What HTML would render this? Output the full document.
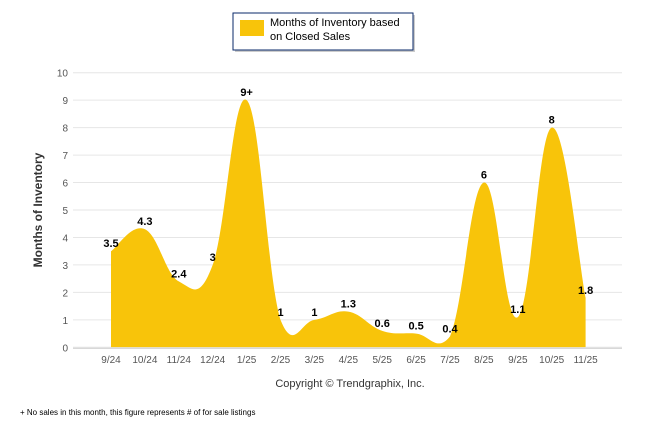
<!DOCTYPE html>
<html><head><meta charset="utf-8"><style>
body{margin:0;background:#fff;width:646px;height:434px;overflow:hidden;font-family:"Liberation Sans",Arial,sans-serif}
svg{display:block}
</style></head><body>
<svg id="c" width="646" height="434">
  <g>
    <rect x="235" y="15" width="180" height="37" fill="#999" opacity="0.5"/>
    <rect x="233" y="13" width="180" height="37" fill="#fff" stroke="#0a2a6a" stroke-width="1"/>
    <rect x="240" y="20" width="24" height="16" fill="#f8c40a"/>
    <text x="270" y="26" font-size="11" fill="#000">Months of Inventory based</text>
    <text x="270" y="40" font-size="11" fill="#000">on Closed Sales</text>
  </g>
  <g id="grid"></g>
  <path id="area" fill="#f8c40a"/>
  <g id="labels"></g>
  <text x="42" y="210" font-size="12" font-weight="bold" fill="#333" text-anchor="middle" transform="rotate(-90 42 210)">Months of Inventory</text>
  <text x="350" y="387" font-size="11" fill="#333" text-anchor="middle">Copyright © Trendgraphix, Inc.</text>
  <text x="20" y="415" font-size="8" fill="#000">+  No sales in this month, this figure represents # of for sale listings</text>
</svg>
<script>
const categories=["9/24","10/24","11/24","12/24","1/25","2/25","3/25","4/25","5/25","6/25","7/25","8/25","9/25","10/25","11/25"];
const values=[3.5,4.3,2.4,3,9,1,1,1.3,0.6,0.5,0.4,6,1.1,8,1.8];
const valueLabels=["3.5","4.3","2.4","3","9+","1","1","1.3","0.6","0.5","0.4","6","1.1","8","1.8"];
const yTicks=[0,1,2,3,4,5,6,7,8,9,10];
const NS="http://www.w3.org/2000/svg";
const x0=111,dx=33.9,yb=347.3,yu=27.46,left=73,right=622;
const xs=i=>x0+i*dx, ys=v=>yb-v*yu;
function mk(tag,attrs,parent){const e=document.createElementNS(NS,tag);for(const k in attrs)e.setAttribute(k,attrs[k]);parent.appendChild(e);return e;}
const grid=document.getElementById('grid');
yTicks.forEach(t=>{
  const l=mk('line',{x1:left,x2:right,y1:ys(t),y2:ys(t),stroke:'#e6e6e6','stroke-width':1},grid);
  
  
  const tx=mk('text',{x:68,y:ys(t)+4,'font-size':10,fill:'#555','text-anchor':'end'},grid);
  tx.textContent=t;
  
  
});
const ax=mk('line',{x1:left,x2:right,y1:yb+1,y2:yb+1,stroke:'#ccc'},grid);


categories.forEach((c,i)=>{
  const tx=mk('text',{x:xs(i),y:363,'font-size':10,fill:'#555','text-anchor':'middle'},grid);
  tx.textContent=c;
  
  
});
const pts=values.map((v,i)=>({x:xs(i),y:ys(v)}));
const k=0.2;
function P(i){return pts[Math.max(0,Math.min(pts.length-1,i))];}
let d=`M${pts[0].x},${yb} L${pts[0].x},${pts[0].y}`;
for(let i=1;i<pts.length;i++){
  const p0=P(i-2),p1=P(i-1),p2=P(i),p3=P(i+1);
  const c1x=p1.x+(p2.x-p0.x)*k, c1y=p1.y+(p2.y-p0.y)*k;
  const c2x=p2.x-(p3.x-p1.x)*k, c2y=p2.y-(p3.y-p1.y)*k;
  d+=` C${c1x},${Math.min(c1y,yb+6)} ${c2x},${Math.min(c2y,yb+6)} ${p2.x},${p2.y}`;
}
d+=` L${pts[pts.length-1].x},${yb} Z`;
const area=document.getElementById('area');
area.setAttribute('d',d);
mk('clipPath',{id:'cp'},document.getElementById('c')).appendChild(document.createElementNS(NS,'rect'));
const cr=document.querySelector('#cp rect');
cr.setAttribute('x',0);cr.setAttribute('y',0);cr.setAttribute('width',646);cr.setAttribute('height',yb);
area.setAttribute('clip-path','url(#cp)');
const lg=document.getElementById('labels');
values.forEach((v,i)=>{
  const t=mk('text',{x:xs(i),y:ys(v)-4,'font-size':11,'font-weight':'bold',fill:'#000','text-anchor':'middle'},lg);
  t.textContent=valueLabels[i];
  
  
});
</script>
</body></html>
